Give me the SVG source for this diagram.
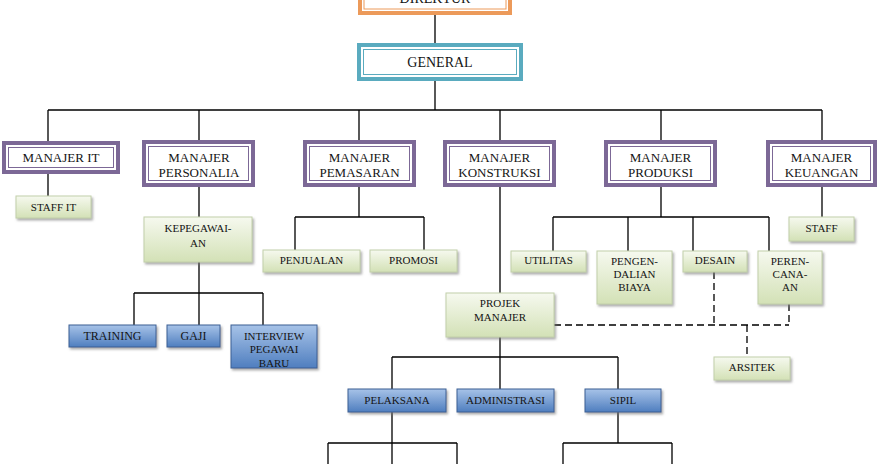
<svg xmlns="http://www.w3.org/2000/svg" width="885" height="464" viewBox="0 0 885 464" font-family="'Liberation Serif', serif">
<defs>
<linearGradient id="gGreen" x1="0" y1="0" x2="0" y2="1">
<stop offset="0" stop-color="#f6f9ef"/>
<stop offset="1" stop-color="#d3e1b6"/>
</linearGradient>
<linearGradient id="gBlue" x1="0" y1="0" x2="0" y2="1">
<stop offset="0" stop-color="#a7c3e8"/>
<stop offset="1" stop-color="#4f7ebf"/>
</linearGradient>
<filter id="sh" x="-10%" y="-10%" width="125%" height="135%">
<feDropShadow dx="1.5" dy="2" stdDeviation="1" flood-color="#777" flood-opacity="0.6"/>
</filter>
<clipPath id="clipInt"><rect x="231" y="325" width="86" height="42"/></clipPath>
</defs>
<style>
text{font-family:'Liberation Serif',serif;fill:#141414;text-anchor:middle}
.big{font-size:13px}
.sm{font-size:11px}
.mgr{fill:#fff;stroke:#7c6896;stroke-width:4}
.mgri{fill:none;stroke:#7c6896;stroke-width:1}
.grn{fill:url(#gGreen);stroke:#c2cfaa;stroke-width:1;filter:url(#sh)}
.blu{fill:url(#gBlue);stroke:#3a5f94;stroke-width:1;filter:url(#sh)}
.ln{fill:none;stroke:#000;stroke-width:1.3}
.dash{fill:none;stroke:#000;stroke-width:1.3;stroke-dasharray:7,4}
</style>
<rect width="885" height="464" fill="#fff"/>

<g id="connectors">
<path class="ln" d="M435 15V43M435 81V110M48 110H822M48 110V141M199 110V140M359 110V140M500 110V140M661 110V140M822 110V140"/>
<path class="ln" d="M48 174V196"/>
<path class="ln" d="M199 187V217M199 262V293M134 293H263M134 293V325M199 293V325M263 293V325"/>
<path class="ln" d="M359 187V217M295 217H424M295 217V250M424 217V250"/>
<path class="ln" d="M500 187V293M500 337V357M392 357H618M392 357V389M500 357V389M618 357V389"/>
<path class="ln" d="M392 412V443M328 443H457M328 443V464M392 443V464M457 443V464"/>
<path class="ln" d="M618 412V443M563 443H672M563 443V464M672 443V464"/>
<path class="ln" d="M661 187V217M553 217H769M553 217V251M628 217V251M693 217V251M769 217V251"/>
<path class="ln" d="M822 187V217"/>
<path class="dash" d="M554 325H789M714 272V325M789 304V325M747 325V357"/>
</g>

<g id="direktur">
<rect x="360" y="-10" width="150" height="23" fill="#fff" stroke="#ec9a5a" stroke-width="4"/>
<rect x="364" y="-6" width="142" height="15" fill="none" stroke="#ec9a5a" stroke-width="1"/>
<text x="435" y="3" font-size="14">DIREKTUR</text>
</g>

<g id="general">
<rect x="359" y="45" width="162" height="34" fill="#fff" stroke="#5aabbf" stroke-width="4"/>
<rect x="363.5" y="49.5" width="153" height="25" fill="none" stroke="#5aabbf" stroke-width="1"/>
<text x="440" y="67" font-size="14">GENERAL</text>
</g>

<g id="manajer-it">
<rect class="mgr" x="4" y="143" width="114" height="29"/>
<rect class="mgri" x="8.5" y="147.5" width="105" height="20"/>
<text class="big" x="61" y="162">MANAJER IT</text>
</g>
<g id="manajer-personalia">
<rect class="mgr" x="144" y="142" width="109" height="43"/>
<rect class="mgri" x="148.5" y="146.5" width="100" height="34"/>
<text class="big" x="199" y="162">MANAJER</text>
<text class="big" x="199" y="177">PERSONALIA</text>
</g>
<g id="manajer-pemasaran">
<rect class="mgr" x="305" y="142" width="109" height="43"/>
<rect class="mgri" x="309.5" y="146.5" width="100" height="34"/>
<text class="big" x="359.5" y="162">MANAJER</text>
<text class="big" x="359.5" y="177">PEMASARAN</text>
</g>
<g id="manajer-konstruksi">
<rect class="mgr" x="445" y="142" width="109" height="43"/>
<rect class="mgri" x="449.5" y="146.5" width="100" height="34"/>
<text class="big" x="499.5" y="162">MANAJER</text>
<text class="big" x="499.5" y="177">KONSTRUKSI</text>
</g>
<g id="manajer-produksi">
<rect class="mgr" x="606" y="142" width="109" height="43"/>
<rect class="mgri" x="610.5" y="146.5" width="100" height="34"/>
<text class="big" x="660.5" y="162">MANAJER</text>
<text class="big" x="660.5" y="177">PRODUKSI</text>
</g>
<g id="manajer-keuangan">
<rect class="mgr" x="768" y="142" width="107" height="43"/>
<rect class="mgri" x="772.5" y="146.5" width="98" height="34"/>
<text class="big" x="821.5" y="162">MANAJER</text>
<text class="big" x="821.5" y="177">KEUANGAN</text>
</g>

<g id="staff-it">
<rect class="grn" x="16" y="196" width="75" height="22"/>
<text class="sm" x="53.5" y="211">STAFF IT</text>
</g>
<g id="kepegawaian">
<rect class="grn" x="144" y="217" width="108" height="45"/>
<text class="sm" x="198" y="232">KEPEGAWAI-</text>
<text class="sm" x="198" y="247">AN</text>
</g>
<g id="training">
<rect class="blu" x="69" y="325" width="87" height="22"/>
<text x="112.5" y="340" font-size="12">TRAINING</text>
</g>
<g id="gaji">
<rect class="blu" x="167" y="325" width="53" height="22"/>
<text x="193.5" y="340" font-size="12">GAJI</text>
</g>
<g id="interview">
<rect class="blu" x="231" y="325" width="86" height="43"/>
<g clip-path="url(#clipInt)">
<text class="sm" x="274" y="340">INTERVIEW</text>
<text class="sm" x="274" y="353">PEGAWAI</text>
<text class="sm" x="274" y="367">BARU</text>
</g>
</g>
<g id="penjualan">
<rect class="grn" x="263" y="250" width="97" height="22"/>
<text class="sm" x="311.5" y="264">PENJUALAN</text>
</g>
<g id="promosi">
<rect class="grn" x="370" y="250" width="87" height="22"/>
<text class="sm" x="413.5" y="264">PROMOSI</text>
</g>
<g id="projek-manajer">
<rect class="grn" x="446" y="293" width="108" height="44"/>
<text class="sm" x="500" y="307">PROJEK</text>
<text class="sm" x="500" y="321">MANAJER</text>
</g>
<g id="pelaksana">
<rect class="blu" x="348" y="389" width="98" height="23"/>
<text class="sm" x="397" y="404">PELAKSANA</text>
</g>
<g id="administrasi">
<rect class="blu" x="457" y="389" width="97" height="23"/>
<text class="sm" x="505.5" y="404">ADMINISTRASI</text>
</g>
<g id="sipil">
<rect class="blu" x="585" y="389" width="76" height="23"/>
<text class="sm" x="623" y="404">SIPIL</text>
</g>
<g id="utilitas">
<rect class="grn" x="511" y="251" width="75" height="21"/>
<text class="sm" x="548.5" y="264">UTILITAS</text>
</g>
<g id="pengendalian-biaya">
<rect class="grn" x="597" y="251" width="75" height="53"/>
<text class="sm" x="634.5" y="265">PENGEN-</text>
<text class="sm" x="634.5" y="278">DALIAN</text>
<text class="sm" x="634.5" y="291">BIAYA</text>
</g>
<g id="desain">
<rect class="grn" x="683" y="251" width="64" height="21"/>
<text class="sm" x="715" y="264">DESAIN</text>
</g>
<g id="perencanaan">
<rect class="grn" x="758" y="251" width="64" height="53"/>
<text class="sm" x="790" y="265">PEREN-</text>
<text class="sm" x="790" y="278">CANA-</text>
<text class="sm" x="790" y="291">AN</text>
</g>
<g id="arsitek">
<rect class="grn" x="714" y="357" width="76" height="23"/>
<text class="sm" x="752" y="371">ARSITEK</text>
</g>
<g id="staff">
<rect class="grn" x="789" y="217" width="65" height="24"/>
<text class="sm" x="821.5" y="232">STAFF</text>
</g>
</svg>
